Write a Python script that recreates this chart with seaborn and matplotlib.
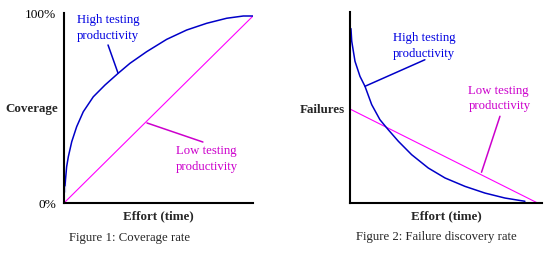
import matplotlib
matplotlib.use("Agg")
import matplotlib.pyplot as plt
import seaborn as sns

# ---- data (normalised effort 0..1, normalised value 0..1) ----
cov_high_x = [0.005, 0.005, 0.014, 0.023, 0.041, 0.067, 0.102, 0.155, 0.217, 0.287,
              0.349, 0.437, 0.543, 0.649, 0.755, 0.861, 0.949, 0.998]
cov_high_y = [0.06, 0.123, 0.194, 0.248, 0.328, 0.408, 0.488, 0.568, 0.631, 0.694,
              0.747, 0.809, 0.875, 0.925, 0.961, 0.988, 1.0, 1.0]
cov_low_x = [0.0, 1.0]
cov_low_y = [0.0, 1.0]

fail_high_x = [0.005, 0.009, 0.026, 0.052, 0.078, 0.113, 0.156, 0.199, 0.252, 0.321,
               0.408, 0.495, 0.599, 0.703, 0.807, 0.911]
fail_high_y = [0.913, 0.847, 0.742, 0.663, 0.611, 0.515, 0.436, 0.384, 0.323, 0.253,
               0.183, 0.131, 0.087, 0.052, 0.026, 0.009]
fail_low_x = [0.0, 0.977]
fail_low_y = [0.492, 0.0]

cov_ticks = ["0%", "100%"]
series_labels = ["High testing\nproductivity", "Low testing\nproductivity"]
titles = ["Figure 1: Coverage rate", "Figure 2: Failure discovery rate"]
ylabels = ["Coverage", "Failures"]
xlabel = "Effort (time)"

sns.set_style("white")
plt.rcParams["font.family"] = ["Liberation Serif", "DejaVu Serif"]

W, H = 553, 254
fig = plt.figure(figsize=(W / 100, H / 100), dpi=100)
fig.patch.set_facecolor("white")

BLUE_L = "#0000C8"
BLUE_T = "#0000E0"
MAG_L = "#FF00FF"
MAG_T = "#CC00CC"
FS = 9.2
LS = 1.4


def px_axes(x0, x1, ytop, ybot):
    return fig.add_axes([x0 / W, 1 - ybot / H, (x1 - x0) / W, (ybot - ytop) / H])


def style(ax):
    for s in ["top", "right"]:
        ax.spines[s].set_visible(False)
    for s in ["left", "bottom"]:
        ax.spines[s].set_linewidth(1.5)
        ax.spines[s].set_color("black")
    ax.set_facecolor("white")
    ax.grid(False)


# ---------------- Panel 1 ----------------
ax1 = px_axes(64, 253, 13, 203)
style(ax1)
sns.lineplot(x=cov_low_x, y=cov_low_y, ax=ax1, color=MAG_L, linewidth=0.8, sort=False)
sns.lineplot(x=cov_high_x, y=cov_high_y, ax=ax1, color=BLUE_L, linewidth=1.1, sort=False)
top1 = 1 + 3 / 187
ax1.set_xlim(0, 1)
ax1.set_ylim(0, top1)
ax1.set_xticks([])
ax1.set_yticks([0, top1])
ax1.set_yticklabels(cov_ticks, fontsize=FS + 0.4)
ax1.tick_params(axis="y", direction="out", length=2.5, width=1.5, pad=3, colors="black")
ax1.set_ylabel(ylabels[0], rotation=0, fontsize=FS + 0.2, fontweight="bold", ha="right", va="center")
ax1.yaxis.set_label_coords(-0.03, 0.495)
ax1.set_xlabel(xlabel, fontsize=FS + 0.2, fontweight="bold", va="center")
ax1.xaxis.set_label_coords(0.497, -0.068)
ax1.text(0.069, 1.01, series_labels[0], color=BLUE_T, fontsize=FS, ha="left", va="top",
         linespacing=LS)
ax1.plot([0.233, 0.286], [0.845, 0.694], color=BLUE_L, linewidth=1.1)
ax1.text(0.593, 0.31, series_labels[1], color=MAG_T, fontsize=FS, ha="left", va="top",
         linespacing=LS)
ax1.plot([0.439, 0.735], [0.428, 0.326], color=MAG_T, linewidth=1.1)
fig.text(130 / W, 1 - 238 / H, titles[0], fontsize=FS, ha="center", va="center")

# ---------------- Panel 2 ----------------
ax2 = px_axes(350, 542, 12, 203)
style(ax2)
sns.lineplot(x=fail_low_x, y=fail_low_y, ax=ax2, color=MAG_L, linewidth=0.8, sort=False)
sns.lineplot(x=fail_high_x, y=fail_high_y, ax=ax2, color=BLUE_L, linewidth=1.1, sort=False)
ax2.set_xlim(0, 1)
ax2.set_ylim(0, 1)
ax2.set_xticks([1])
ax2.set_xticklabels([""])
ax2.set_yticks([1])
ax2.set_yticklabels([""])
ax2.tick_params(axis="both", direction="out", length=2.5, width=1.5, colors="black")
ax2.set_ylabel(ylabels[1], rotation=0, fontsize=FS + 0.2, fontweight="bold", ha="right", va="center")
ax2.yaxis.set_label_coords(-0.026, (203 - 110) / 191)
ax2.set_xlabel(xlabel, fontsize=FS + 0.2, fontweight="bold", va="center")
ax2.xaxis.set_label_coords(0.5, -0.068)
ax2.text(0.224, 0.895, series_labels[0], color=BLUE_T, fontsize=FS, ha="left", va="top",
         linespacing=LS)
ax2.plot([0.078, 0.39], [0.611, 0.75], color=BLUE_L, linewidth=1.1)
ax2.text(0.617, 0.62, series_labels[1], color=MAG_T, fontsize=FS, ha="left", va="top",
         linespacing=LS)
ax2.plot([0.685, 0.781], [0.161, 0.454], color=MAG_T, linewidth=1.1)
fig.text(436 / W, 1 - 237 / H, titles[1], fontsize=FS, ha="center", va="center")

fig.savefig("out.png", dpi=100, facecolor="white")
